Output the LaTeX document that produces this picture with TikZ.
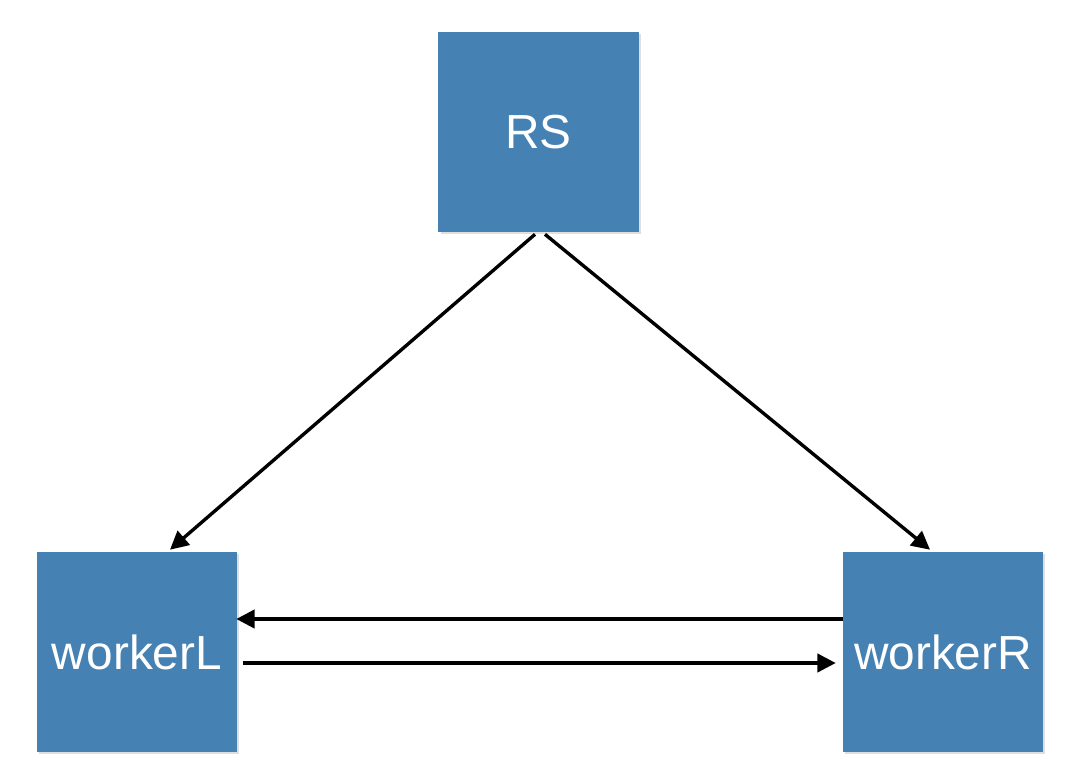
\documentclass[tikz,border=0pt]{standalone}
\usepackage{fontspec}
\setmainfont{Liberation Sans}
\usetikzlibrary{arrows.meta,shadows}
\definecolor{boxblue}{HTML}{4581B2}
\tikzset {
knoten/.style={shape=rectangle,fill=boxblue,text=white,minimum width=5cm,minimum height=5cm,inner sep=0pt,font=\fontsize{34}{40}\selectfont,drop shadow={shadow xshift=1.5pt,shadow yshift=-1.5pt,opacity=0.25}},
pfeil/.style={line width=2.4pt,-{Triangle[length=13pt,width=13pt]}}
}

\begin{document}
\begin{tikzpicture}
[x=0.025cm,y=-0.025cm]
\useasboundingbox (0,0) rectangle (1078,778);
\node[knoten] (rs) at (538.5,132) {RS};
\node[knoten] (worker l) at (137,652) {workerL};
\node[knoten] (worker r) at (943,652) {workerR};

\draw[pfeil] ([xshift=-3.5*0.025cm,yshift=-2*0.025cm]rs.south) to ([xshift=33*0.025cm,yshift=2*0.025cm]worker l.north);
\draw[pfeil] ([xshift=6.5*0.025cm,yshift=-2*0.025cm]rs.south) to ([xshift=-13*0.025cm,yshift=2*0.025cm]worker r.north);
\draw[pfeil] ([yshift=33*0.025cm]worker r.west) to ([yshift=33*0.025cm,xshift=-1*0.025cm]worker l.east);
\draw[pfeil] ([yshift=-11*0.025cm,xshift=6*0.025cm]worker l.east) to ([yshift=-11*0.025cm,xshift=-7*0.025cm]worker r.west);
\end{tikzpicture}
\end{document}
